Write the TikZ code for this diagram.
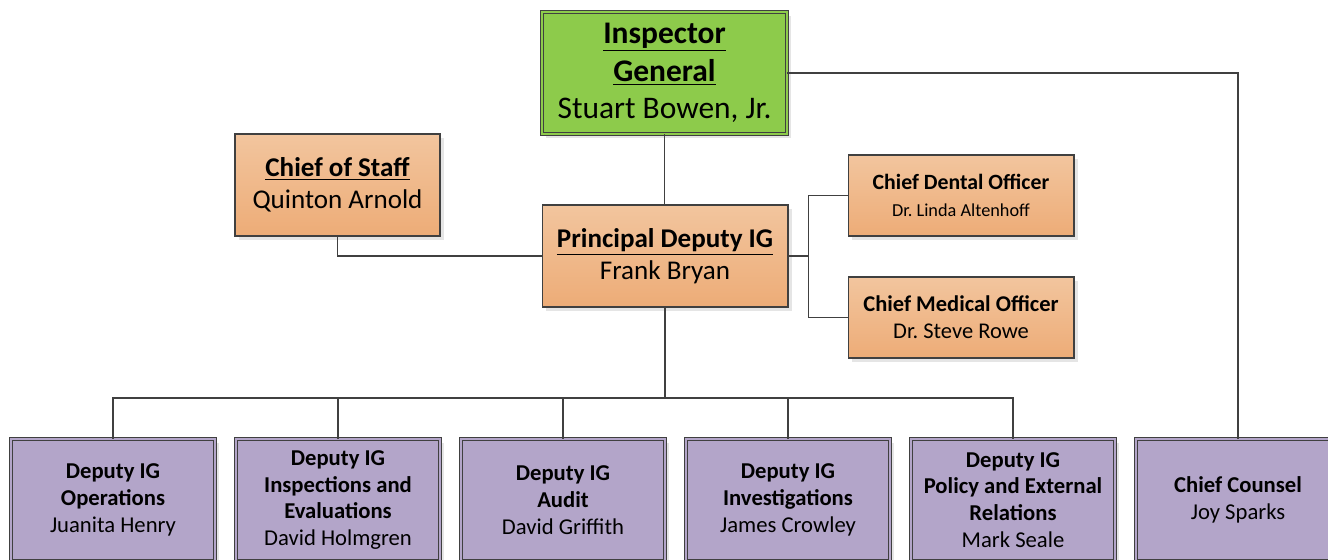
\documentclass[tikz,border=0pt]{standalone}
\usepackage{fontspec}
\setmainfont{Carlito}
\usetikzlibrary{positioning, shadows}
\definecolor{igreen}{HTML}{8DCB4B}
\definecolor{peachtop}{HTML}{F2C59E}
\definecolor{peachbot}{HTML}{EDAC77}
\definecolor{lilac}{HTML}{B3A5C9}
\definecolor{edgegray}{HTML}{404040}

\tikzset{
  orgbox/.style={rectangle, draw=edgegray, line width=0.6pt, align=center, inner sep=0pt,
    drop shadow={shadow xshift=2.5pt, shadow yshift=-2.5pt, fill=black, opacity=0.1}},
  greenbox/.style={orgbox, line width=0.5pt, fill=igreen, double=igreen, double distance=1.5pt},
  peachbox/.style={orgbox, top color=peachtop, bottom color=peachbot},
  lilacbox/.style={orgbox, line width=0.5pt, fill=lilac, double=lilac, double distance=1.5pt,
    minimum width=4.08cm, minimum height=2.44cm, font=\boxtxt},
  link/.style={draw=edgegray, line width=0.9pt}
}
\newcommand{\bigtxt}{\fontsize{17.9}{21.5}\selectfont}
\newcommand{\midtxt}{\fontsize{15.4}{18.2}\selectfont}
\newcommand{\boxtxt}{\fontsize{12.9}{15.3}\selectfont}

\begin{document}
\begin{tikzpicture}[x=0.02cm, y=-0.02cm]
\useasboundingbox (0,0) rectangle (1328,559);
\clip (0,0) rectangle (1328,559);

% Top box
\node[greenbox, minimum width=4.9cm, minimum height=2.44cm, font=\bigtxt] (ig) at (664.5,73)
  {\textbf{\underline{Inspector}}\\ \textbf{\underline{General}}\\ Stuart Bowen, Jr.};

% Second row
\node[peachbox, minimum width=4.1cm, minimum height=2.04cm, font=\midtxt] (cos) at (337.5,185)
  {\textbf{\underline{Chief of Staff}}\\ Quinton Arnold};
\node[peachbox, minimum width=4.92cm, minimum height=2.04cm, font=\midtxt] (pdig) at (665,256)
  {\textbf{\underline{Principal Deputy IG}}\\ Frank Bryan};
\node[peachbox, minimum width=4.52cm, minimum height=1.62cm, font={\fontsize{12.4}{14}\selectfont}] (cdo) at (961,195.5)
  {\textbf{Chief Dental Officer}\\[1pt] \fontsize{10.4}{12}\selectfont Dr.\ Linda Altenhoff};
\node[peachbox, minimum width=4.52cm, minimum height=1.62cm, font={\fontsize{12.8}{15.3}\selectfont}] (cmo) at (961,317.5)
  {\textbf{Chief Medical Officer}\\ Dr.\ Steve Rowe};

% Bottom row
\node[lilacbox] (ops) at (113,500) {\textbf{Deputy IG}\\ \textbf{Operations}\\ Juanita Henry};
\node[lilacbox] (insp) at (338,500) {\textbf{Deputy IG}\\ \textbf{Inspections and}\\ \textbf{Evaluations}\\ David Holmgren};
\node[lilacbox] (aud) at (563,500) {\textbf{Deputy IG}\\ \textbf{Audit}\\ David Griffith};
\node[lilacbox] (inv) at (788,500) {\textbf{Deputy IG}\\ \textbf{Investigations}\\ James Crowley};
\node[lilacbox] (pol) at (1013,500) {\textbf{Deputy IG}\\ \textbf{Policy and External}\\ \textbf{Relations}\\ Mark Seale};
\node[lilacbox] (counsel) at (1238,500) {\textbf{Chief Counsel}\\ Joy Sparks};

% Connectors
\coordinate (split) at ([xshift=0.4cm]pdig.east);
\coordinate (bus) at (665,398);
\draw[link] (ig.south) -- (ig.south |- pdig.north);
\draw[link] (ig.east) -| (counsel.north);
\draw[link] (cos.south) |- (pdig.west);
\draw[link] (pdig.east) -- (split);
\draw[link] (cdo.west) -| (split) |- (cmo.west);
\draw[link] (pdig.south) -- (pdig.south |- bus);
\foreach \d in {ops, insp, aud, inv, pol}
  \draw[link] (\d.north) |- (bus);
\end{tikzpicture}
\end{document}
